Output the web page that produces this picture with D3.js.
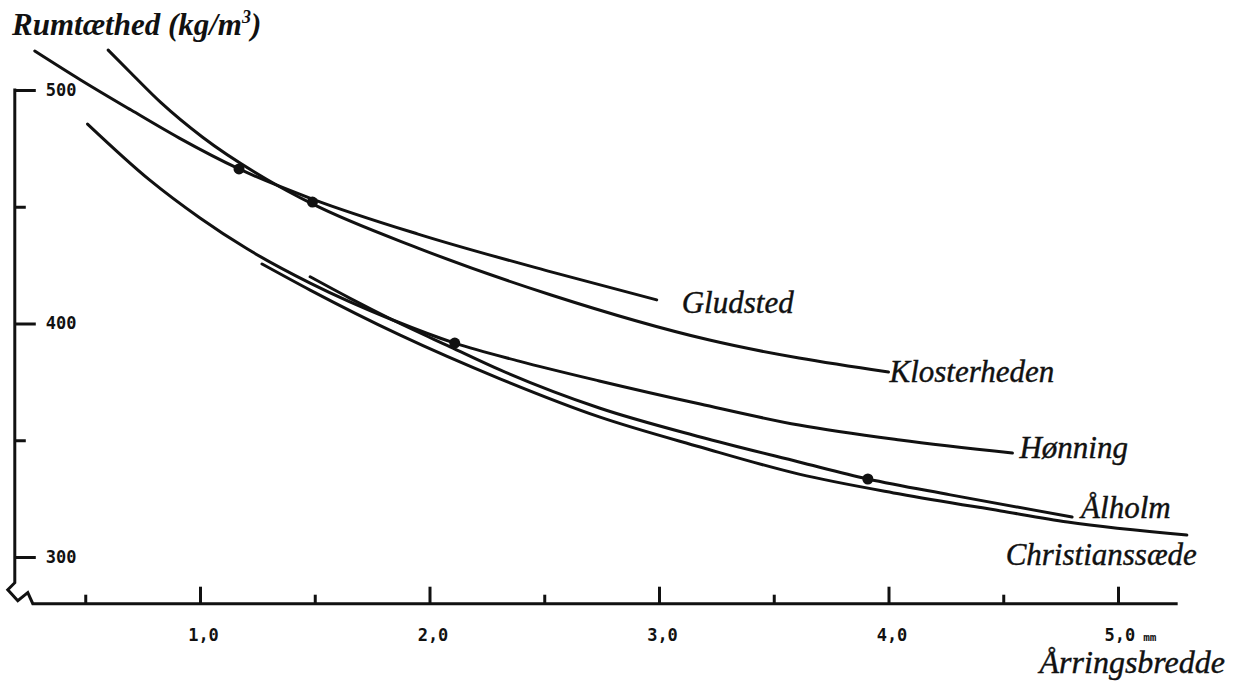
<!DOCTYPE html>
<html>
<head>
<meta charset="utf-8">
<script src="https://cdn.jsdelivr.net/npm/d3@7"></script>
<style>
  html, body { margin: 0; padding: 0; background: #fff; }
  svg { display: block; }
</style>
</head>
<body>
<svg id="chart" width="1238" height="689"></svg>
<script>
// ---------- data ----------
// x = Årringsbredde (mm), y = Rumtæthed (kg/m³)
const gludsted = [
  [0.28, 516.7], [0.48, 504.3], [0.70, 491.4], [0.91, 479.4], [1.17, 466.2],
  [1.49, 453.3], [1.95, 438.3], [2.53, 422.1], [2.99, 410.1]
];
const klosterheden = [
  [0.60, 517.1], [0.70, 507.2], [0.83, 494.6], [1.01, 479.9], [1.29, 461.8],
  [1.49, 451.2], [1.95, 432.3], [2.53, 412.2], [3.22, 392.9], [4.00, 379.2]
];
const honning = [
  [0.51, 485.4], [0.78, 461.5], [1.00, 445.2], [1.20, 432.3], [1.48, 417.3],
  [1.84, 401.5], [2.11, 391.6], [2.39, 383.9], [2.74, 375.4], [3.18, 365.5],
  [3.61, 356.5], [4.05, 350.1], [4.54, 344.5]
];
const alholm = [
  [1.48, 420], [1.65, 411], [1.84, 401.5], [2.09, 390], [2.31, 380],
  [2.74, 363.8], [3.18, 351.4], [3.61, 340.7], [3.91, 333.4], [4.27, 326.6], [4.80, 317.1]
];
const christianssaede = [
  [1.27, 425.5], [1.48, 414.3], [1.87, 395.1], [2.31, 376.2], [2.74, 360],
  [3.18, 347.1], [3.61, 335.5], [4.05, 327], [4.49, 319.7], [4.78, 315], [5.30, 309.4]
];
const seriesNames = ["Gludsted", "Klosterheden", "Hønning", "Ålholm", "Christianssæde"];
const seriesData = [gludsted, klosterheden, honning, alholm, christianssaede];

// marked points (filled dots)
const dotX = [1.17, 1.49, 2.11, 3.91];
const dotY = [466.2, 452, 391.6, 333.4];

const xMajorTicks = [1, 2, 3, 4, 5];
const xMinorTicks = [0.5, 1.5, 2.5, 3.5, 4.5];
const yMajorTicks = [300, 400, 500];
const yMinorTicks = [350, 450];
const xTickLabels = ["1,0", "2,0", "3,0", "4,0", "5,0"];
const xUnit = "mm";
const yTitle = "Rumtæthed (kg/m";
const xTitle = "Årringsbredde";

// ---------- layout ----------
const svg = d3.select("#chart");
const x = d3.scaleLinear().domain([0, 5]).range([-29.5, 1118]);
const y = d3.scaleLinear().domain([300, 500]).range([557, 90]);

const xAxisEnd = 5.26;
const yAxisX = 0.193, yAxisBottom = 280;
const axisY = y(yAxisBottom);
const axisX = x(yAxisX);

const ink = "#111";
const monoFont = "'DejaVu Sans Mono', 'Liberation Mono', monospace";
const serifFont = "'Liberation Serif', 'Times New Roman', serif";

// ---------- axes ----------
const gxMajor = svg.append("g")
  .attr("transform", `translate(0,${axisY})`)
  .call(d3.axisBottom(x).tickValues(xMajorTicks).tickSize(-17).tickPadding(36)
        .tickFormat((d, i) => xTickLabels[i]));
gxMajor.select(".domain").remove();
gxMajor.selectAll(".tick line").attr("stroke", ink).attr("stroke-width", 3);
gxMajor.selectAll(".tick text")
  .attr("font-family", monoFont).attr("font-weight", "bold")
  .attr("font-size", 17).attr("fill", ink).attr("dx", 3)
  .attr("dy", 0).attr("y", 37);
gxMajor.selectAll(".tick text").filter((d) => d === 5)
  .attr("text-anchor", "start").attr("dx", -14)
  .append("tspan").attr("dx", 8).attr("font-size", 11).text(xUnit);

const gxMinor = svg.append("g")
  .attr("transform", `translate(0,${axisY})`)
  .call(d3.axisBottom(x).tickValues(xMinorTicks).tickSize(-9).tickFormat(""));
gxMinor.select(".domain").remove();
gxMinor.selectAll(".tick line").attr("stroke", ink).attr("stroke-width", 3);

const gyMajor = svg.append("g")
  .attr("transform", `translate(${axisX},0)`)
  .call(d3.axisRight(y).tickValues(yMajorTicks).tickSize(21).tickPadding(10));
gyMajor.select(".domain").remove();
gyMajor.selectAll(".tick line").attr("stroke", ink).attr("stroke-width", 3);
gyMajor.selectAll(".tick text")
  .attr("font-family", monoFont).attr("font-weight", "bold")
  .attr("font-size", 17).attr("fill", ink);

const gyMinor = svg.append("g")
  .attr("transform", `translate(${axisX},0)`)
  .call(d3.axisRight(y).tickValues(yMinorTicks).tickSize(11).tickFormat(""));
gyMinor.select(".domain").remove();
gyMinor.selectAll(".tick line").attr("stroke", ink).attr("stroke-width", 3);

// axis lines with the broken-axis zigzag at the origin
const breakTop = y(yAxisBottom) - 21;
const axisPath = d3.path();
axisPath.moveTo(axisX, y(500) - 1.5);
axisPath.lineTo(axisX, breakTop);
axisPath.lineTo(axisX - 7, breakTop + 7);
axisPath.lineTo(axisX + 3, breakTop + 18);
axisPath.lineTo(axisX + 13, breakTop + 10);
axisPath.lineTo(axisX + 18, axisY);
axisPath.lineTo(x(xAxisEnd), axisY);
svg.append("path").attr("d", axisPath.toString())
  .attr("fill", "none").attr("stroke", ink).attr("stroke-width", 3)
  .attr("stroke-linejoin", "miter");

// ---------- curves ----------
const line = d3.line()
  .x(d => x(d[0])).y(d => y(d[1]))
  .curve(d3.curveMonotoneX);

svg.append("g").selectAll("path")
  .data(seriesData)
  .join("path")
  .attr("d", line)
  .attr("fill", "none").attr("stroke", ink)
  .attr("stroke-width", 3).attr("stroke-linecap", "round");

svg.append("g").selectAll("circle")
  .data(dotX.map((d, i) => [d, dotY[i]]))
  .join("circle")
  .attr("cx", d => x(d[0])).attr("cy", d => y(d[1]))
  .attr("r", 5.5).attr("fill", ink);

// ---------- series labels ----------
const labelOffsets = [[25, 13, "start"], [1, 10, "start"], [7, 5, "start"], [9, 1, "start"], [10, 30, "end"]];
svg.append("g").selectAll("text")
  .data(seriesData)
  .join("text")
  .attr("x", (d, i) => x(d[d.length - 1][0]) + labelOffsets[i][0])
  .attr("y", (d, i) => y(d[d.length - 1][1]) + labelOffsets[i][1])
  .attr("text-anchor", (d, i) => labelOffsets[i][2])
  .attr("font-family", serifFont).attr("font-style", "italic")
  .attr("font-size", 31).attr("fill", ink)
  .attr("stroke", ink).attr("stroke-width", 0.4)
  .text((d, i) => seriesNames[i]);

// ---------- axis titles ----------
const t = svg.append("text")
  .attr("x", 12).attr("y", 35)
  .attr("font-family", serifFont).attr("font-style", "italic").attr("font-weight", "bold")
  .attr("font-size", 31).attr("fill", ink)
  .text(yTitle);
t.append("tspan").attr("font-size", 18).attr("dy", -12).text("3");
t.append("tspan").attr("dy", 12).text(")");

svg.append("text")
  .attr("x", 1225).attr("y", 673).attr("text-anchor", "end")
  .attr("font-family", serifFont).attr("font-style", "italic")
  .attr("font-size", 32).attr("fill", ink)
  .attr("stroke", ink).attr("stroke-width", 0.4)
  .text(xTitle);
</script>
</body>
</html>
